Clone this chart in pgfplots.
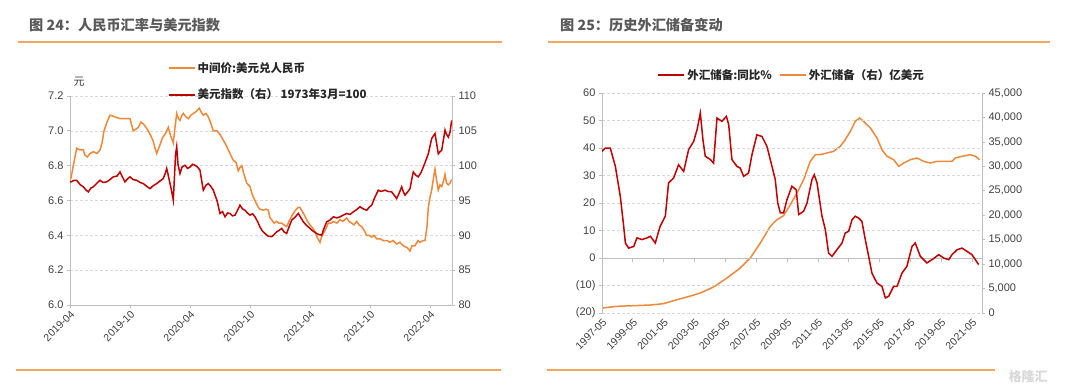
\documentclass[border=0pt]{standalone}
\usepackage{pgfplots}
\pgfplotsset{compat=1.18}
\usepackage{fontspec}
\setmainfont{Liberation Sans}
\newfontfamily\cjk{Noto Sans CJK SC}
\definecolor{cnyorange}{RGB}{240,136,58}
\definecolor{dred}{RGB}{192,0,0}
\definecolor{rule}{RGB}{246,166,96}
\definecolor{titlegray}{RGB}{89,89,89}
\definecolor{axgray}{RGB}{190,190,190}
\definecolor{tickgray}{RGB}{64,64,64}

\pgfplotstableread{
m v
0.0 6.72
0.1 6.73
0.4 6.82
0.67 6.90
1.0 6.89
1.33 6.89
1.5 6.86
1.73 6.85
2.0 6.87
2.33 6.88
2.7 6.87
3.0 6.89
3.2 6.93
3.4 7.00
3.7 7.05
4.0 7.09
4.5 7.08
5.0 7.07
5.5 7.07
6.0 7.07
6.33 7.00
6.6 7.01
6.83 7.02
7.1 7.05
7.33 7.04
7.6 7.02
7.83 7.00
8.1 6.97
8.33 6.94
8.5 6.90
8.67 6.87
9.0 6.92
9.25 6.96
9.5 6.98
9.83 7.02
10.07 6.97
10.33 6.93
10.5 7.02
10.67 7.10
10.85 7.07
11.0 7.06
11.2 7.09
11.33 7.10
11.6 7.08
11.83 7.07
12.1 7.09
12.33 7.10
12.6 7.11
12.93 7.13
13.1 7.11
13.33 7.09
13.6 7.10
13.83 7.08
14.1 7.04
14.33 7.00
14.7 7.00
15.0 6.98
15.3 6.95
15.67 6.91
16.0 6.87
16.33 6.83
16.6 6.82
16.83 6.77
17.0 6.79
17.17 6.80
17.4 6.75
17.67 6.70
18.0 6.68
18.25 6.63
18.5 6.60
18.83 6.56
19.0 6.55
19.33 6.545
19.6 6.55
19.83 6.545
20.0 6.50
20.17 6.49
20.4 6.47
20.67 6.48
20.9 6.47
21.17 6.47
21.4 6.46
21.67 6.45
21.9 6.48
22.17 6.51
22.5 6.54
22.8 6.56
23.0 6.56
23.2 6.54
23.5 6.51
23.75 6.48
24.0 6.46
24.3 6.44
24.5 6.42
24.8 6.38
25.0 6.36
25.15 6.39
25.33 6.41
25.6 6.44
25.83 6.47
26.1 6.47
26.33 6.48
26.7 6.47
27.0 6.49
27.3 6.48
27.67 6.50
27.9 6.48
28.17 6.47
28.4 6.46
28.67 6.48
28.9 6.46
29.17 6.45
29.4 6.43
29.67 6.40
29.9 6.40
30.17 6.39
30.4 6.40
30.67 6.38
31.0 6.38
31.33 6.37
31.7 6.37
32.0 6.36
32.3 6.37
32.67 6.35
33.0 6.36
33.33 6.34
33.7 6.33
34.0 6.31
34.2 6.34
34.5 6.34
34.8 6.37
35.0 6.36
35.3 6.37
35.5 6.37
35.7 6.45
35.83 6.56
36.0 6.62
36.17 6.66
36.35 6.73
36.5 6.78
36.65 6.72
36.83 6.66
37.0 6.69
37.17 6.68
37.35 6.71
37.5 6.75
37.65 6.70
37.83 6.69
38.0 6.70
38.17 6.72
}\cny

\pgfplotstableread{
m v
0.0 97.7
0.1 97.67
0.4 97.9
0.67 97.9
1.0 97.3
1.33 96.96
1.6 96.5
1.83 96.24
2.1 96.8
2.33 96.96
2.7 97.5
3.0 97.9
3.3 97.6
3.67 97.67
4.0 98.0
4.33 98.4
4.7 98.5
5.0 99.1
5.2 98.5
5.5 97.67
5.75 98.1
6.0 98.4
6.3 98.0
6.67 97.9
7.0 97.6
7.33 97.43
7.7 97.0
8.0 96.7
8.3 97.1
8.67 97.43
9.0 97.8
9.33 98.15
9.55 99.0
9.67 99.6
9.8 98.8
9.93 97.9
10.1 96.8
10.33 95.04
10.45 98.5
10.55 101.5
10.67 102.7
10.8 100.2
11.0 98.87
11.2 99.8
11.5 100.06
11.75 99.6
12.0 99.8
12.25 100.2
12.5 100.06
12.75 99.8
13.0 99.35
13.15 98.0
13.33 96.48
13.6 97.2
13.83 97.43
14.1 97.0
14.33 96.48
14.7 95.0
15.0 93.14
15.25 93.4
15.5 92.66
15.75 93.2
16.0 93.14
16.25 92.8
16.5 92.9
16.75 93.6
17.0 94.33
17.25 93.8
17.5 93.6
17.75 93.2
18.0 92.9
18.25 93.1
18.5 92.66
18.75 92.0
19.0 91.2
19.25 90.6
19.5 90.27
19.8 89.9
20.17 89.8
20.4 90.1
20.67 90.5
20.9 90.7
21.17 91.0
21.4 90.5
21.67 90.27
21.9 91.2
22.17 92.18
22.5 92.6
22.83 93.14
23.1 92.5
23.33 91.94
23.67 91.4
24.0 91.0
24.3 90.6
24.67 90.27
24.9 90.1
25.17 90.03
25.4 91.0
25.67 91.94
26.0 92.2
26.33 92.66
26.67 92.5
27.0 92.66
27.33 92.9
27.67 93.14
28.0 93.0
28.33 93.37
28.67 93.7
29.0 94.1
29.33 93.8
29.67 93.6
29.9 94.0
30.17 94.33
30.5 95.5
30.83 96.48
31.1 96.3
31.5 96.48
31.8 96.3
32.17 96.24
32.4 95.8
32.67 95.28
32.9 96.0
33.17 96.96
33.35 96.2
33.5 95.76
33.75 96.2
34.0 96.7
34.17 98.0
34.33 99.1
34.6 98.6
34.83 98.4
35.1 99.0
35.33 99.8
35.6 100.8
35.83 101.7
36.0 102.8
36.17 103.9
36.35 104.3
36.5 104.6
36.65 103.3
36.83 101.7
37.0 102.0
37.17 102.2
37.35 103.8
37.5 105.1
37.65 104.5
37.83 104.1
38.0 104.8
38.17 106.5
}\dxy

\pgfplotstableread{
t v
1997.33 38.8
1997.55 40
1997.87 40
1998.2 33.3
1998.52 22.4
1998.74 11.5
1998.85 5.45
1999.06 3.6
1999.39 4.2
1999.6 7.3
1999.93 6.7
2000.25 7.3
2000.47 7.9
2000.79 5.45
2001.1 11.5
2001.44 15.2
2001.65 27.3
2001.98 29.1
2002.3 33.9
2002.63 31.5
2002.95 39.4
2003.28 42.4
2003.5 46.7
2003.71 52.7
2003.88 43
2004.03 37
2004.36 35.8
2004.57 34.5
2004.79 50.9
2005.11 49.7
2005.4 51.5
2005.55 48.5
2005.76 35.8
2006.09 33.3
2006.3 32.7
2006.52 29.7
2006.84 30.9
2007.06 37.6
2007.38 44.8
2007.71 44.2
2008.03 40.6
2008.36 33.3
2008.57 28.5
2008.73 20
2008.9 16.4
2009.11 16.4
2009.33 21.2
2009.65 26.1
2009.93 24.8
2010.09 15.8
2010.41 17
2010.63 20
2010.95 28.5
2011.1 30.3
2011.28 27.3
2011.6 15.2
2011.82 10.3
2012.03 1.8
2012.25 0.6
2012.57 3.0
2012.9 5.45
2013.11 9.1
2013.33 9.7
2013.55 13.9
2013.76 15.2
2013.98 14.5
2014.19 13.3
2014.41 6.7
2014.63 0.6
2014.84 -5.5
2015.17 -9.1
2015.49 -10.3
2015.71 -14.5
2015.93 -13.9
2016.25 -10.3
2016.47 -10.3
2016.79 -5.5
2017.11 -3
2017.44 4.2
2017.65 5.45
2017.98 0.6
2018.41 -1.8
2018.74 -0.6
2019.17 1.2
2019.5 0
2019.82 -0.6
2020.03 1.2
2020.36 3.0
2020.68 3.6
2021.01 2.4
2021.33 1.2
2021.55 -0.6
2021.76 -2.4
}\yoy

\pgfplotstableread{
t v
1997.33 1020
1998.3 1364
1999.39 1500
2000.47 1636
2001.33 1910
2002.2 2727
2002.85 3273
2003.71 4090
2004.57 5320
2005.44 7160
2006.3 9200
2006.95 11250
2007.6 14320
2008.25 17730
2008.68 19090
2009.11 19910
2009.55 22160
2009.98 24550
2010.41 27270
2010.84 31020
2011.17 32390
2011.49 32390
2011.92 32730
2012.36 33070
2012.79 34090
2013.11 35450
2013.44 37160
2013.76 39200
2014.04 39890
2014.3 39200
2014.74 37840
2015.17 35800
2015.49 33410
2015.82 32050
2016.25 31360
2016.58 30000
2016.9 30680
2017.33 31360
2017.76 31700
2018.2 31020
2018.63 30680
2019.06 31020
2019.6 31020
2020.03 31020
2020.25 31700
2020.68 32050
2021.22 32390
2021.55 32050
2021.83 31360
}\res

\pgfplotsset{
  base/.style={
    scale only axis, anchor=south west,
    axis line style={axgray, line width=0.8pt},
    tick style={axgray, line width=0.7pt},
    tick align=outside, major tick length=3pt,
    yticklabel style={font=\fontsize{11}{13}\selectfont, text=tickgray},
    xticklabel style={font=\fontsize{10.5}{12}\selectfont, text=tickgray, rotate=45, anchor=north east, inner sep=1pt},
    /pgf/number format/assume math mode=true,
    legend image code/.code={\draw[#1, line width=2pt] (0pt,0pt) -- (26pt,0pt);},
    legend style={draw=none, fill=none, font=\cjk\bfseries\fontsize{11.5}{13}\selectfont, text=black!85},
    legend cell align=left,
  },
  grd/.style={ymajorgrids, major grid style={dash pattern=on 3pt off 2pt, gray!30, line width=0.6pt}},
}

\begin{document}
\begin{tikzpicture}[x=1pt,y=1pt]
\path[use as bounding box] (0,0) rectangle (1080,391);

% ---------- titles and rules ----------
\node[anchor=west, inner sep=0pt, font=\cjk\bfseries\fontsize{14.2}{16}\selectfont, text=titlegray] at (29,366) {图 24：人民币汇率与美元指数};
\node[anchor=west, inner sep=0pt, font=\cjk\bfseries\fontsize{14.2}{16}\selectfont, text=titlegray] at (560,366) {图 25：历史外汇储备变动};
\draw[rule, line width=1.3pt] (18,349) -- (502,349);
\draw[rule, line width=1.3pt] (548,349) -- (1050,349);
\draw[rule, line width=1.3pt] (16,21) -- (501,21);
\draw[rule, line width=1.3pt] (547,21) -- (995,21);
\node[anchor=west, font=\cjk\bfseries\fontsize{13}{15}\selectfont, text=gray!30] at (1005,14) {格隆汇};
\node[font=\cjk\fontsize{11}{13}\selectfont, text=tickgray] at (79,309) {元};

% ---------- left panel ----------
\begin{axis}[base, grd, at={(70pt,86pt)}, width=382pt, height=209pt,
  xmin=0, xmax=38.2, ymin=6, ymax=7.2,
  axis y line*=left, axis x line*=bottom,
  xtick={0,6,12,18,24,30,36},
  xticklabels={2019-04,2019-10,2020-04,2020-10,2021-04,2021-10,2022-04},
  ytick={6,6.2,6.4,6.6,6.8,7,7.2},
  yticklabel style={/pgf/number format/.cd, fixed, fixed zerofill, precision=1},
  legend style={at={(0.247,1.18)}, anchor=north west, row sep=11pt},
]
\addplot[cnyorange, line width=1.5pt] table[x=m, y=v] {\cny};
\addlegendentry{中间价:美元兑人民币}
\addlegendimage{dred}
\addlegendentry{美元指数（右）  1973年3月=100}
\end{axis}
\begin{axis}[base, at={(70pt,86pt)}, width=382pt, height=209pt,
  xmin=0, xmax=38.2, ymin=80, ymax=110,
  axis y line*=right, axis x line=none,
  ytick={80,85,...,110},
]
\addplot[dred, line width=1.5pt] table[x=m, y=v] {\dxy};
\end{axis}

% ---------- right panel ----------
\begin{axis}[base, at={(602pt,78pt)}, width=380pt, height=220pt,
  xmin=1997.333, xmax=2021.98, ymin=0, ymax=45000,
  axis y line*=right, axis x line=none,
  ytick={0,5000,...,45000},
  scaled y ticks=false,
  yticklabel style={/pgf/number format/.cd, 1000 sep={,}},
]
\addplot[cnyorange, line width=1.5pt] table[x=t, y=v] {\res};
\end{axis}
\begin{axis}[base, grd, at={(602pt,78pt)}, width=380pt, height=220pt,
  xmin=1997.333, xmax=2021.98, ymin=-20, ymax=60,
  axis y line*=left, axis x line*=bottom,
  x axis line style={draw=none}, xtick style={draw=none},
  xtick={1997.333,1999.333,2001.333,2003.333,2005.333,2007.333,2009.333,2011.333,2013.333,2015.333,2017.333,2019.333,2021.333},
  xticklabels={1997-05,1999-05,2001-05,2003-05,2005-05,2007-05,2009-05,2011-05,2013-05,2015-05,2017-05,2019-05,2021-05},
  ytick={-20,-10,...,60},
  yticklabels={(20),(10),0,10,20,30,40,50,60},
  legend columns=2,
  legend style={at={(0.137,1.082)}, anchor=west, /tikz/every even column/.append style={column sep=5pt}},
]
\draw[axgray, line width=0.8pt] (axis cs:1997.333,0) -- (axis cs:2021.98,0);
\pgfplotsinvokeforeach{1997.333,1999.333,2001.333,2003.333,2005.333,2007.333,2009.333,2011.333,2013.333,2015.333,2017.333,2019.333,2021.333}{
  \draw[axgray, line width=0.7pt] (axis cs:#1,0) -- ([yshift=-4pt]axis cs:#1,0);
}
\addplot[dred, line width=1.5pt] table[x=t, y=v] {\yoy};
\addlegendentry{外汇储备:同比％}
\addlegendimage{cnyorange}
\addlegendentry{外汇储备（右）亿美元}
\end{axis}
\end{tikzpicture}
\end{document}
